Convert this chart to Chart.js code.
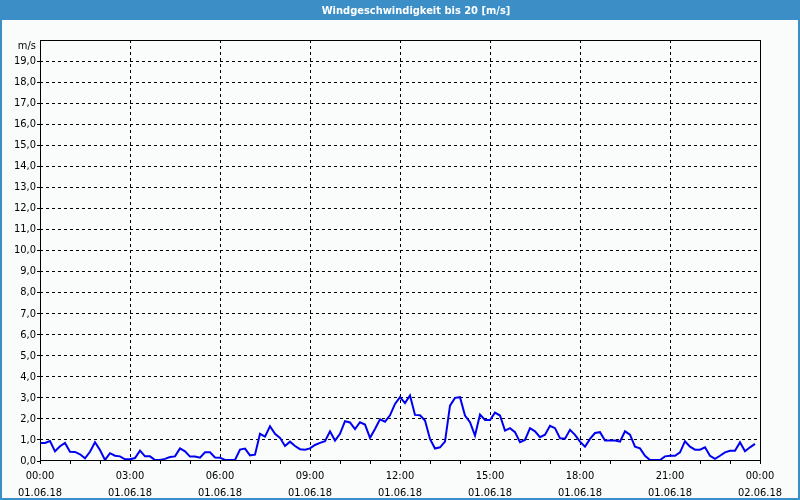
<!DOCTYPE html>
<html>
<head>
<meta charset="utf-8">
<script src="https://cdn.jsdelivr.net/npm/chart.js@4.4.0/dist/chart.umd.min.js"></script>
<style>
  body { margin: 0; background: #fff; }
  #wrap { width: 800px; height: 500px; }
</style>
</head>
<body>
<div id="wrap"><canvas id="myChart" width="800" height="500"></canvas></div>
<script>
// chart texts
const chartTitle = "Windgeschwindigkeit bis 20 [m/s]";
const unitLabel = "m/s";

// x axis: hours 0..24, labels every 3 h
const tickHours = [0, 3, 6, 9, 12, 15, 18, 21, 24];
const tickTimes = ["00:00", "03:00", "06:00", "09:00", "12:00", "15:00", "18:00", "21:00", "00:00"];
const tickDates = ["01.06.18", "01.06.18", "01.06.18", "01.06.18", "01.06.18", "01.06.18", "01.06.18", "01.06.18", "02.06.18"];

// one value every 10 minutes, starting 00:00
const stepMinutes = 10;
const windSpeed = [
  0.86, 0.86, 0.95, 0.46, 0.70, 0.86, 0.44, 0.43, 0.32, 0.13, 0.44, 0.89,
  0.52, 0.05, 0.37, 0.25, 0.22, 0.08, 0.08, 0.14, 0.49, 0.22, 0.22, 0.05,
  0.05, 0.10, 0.19, 0.22, 0.60, 0.46, 0.21, 0.21, 0.16, 0.41, 0.41, 0.17,
  0.16, 0.05, 0.05, 0.05, 0.54, 0.59, 0.27, 0.30, 1.29, 1.16, 1.65, 1.29,
  1.10, 0.71, 0.92, 0.71, 0.56, 0.54, 0.60, 0.76, 0.86, 0.94, 1.41, 0.97,
  1.29, 1.89, 1.83, 1.52, 1.84, 1.73, 1.10, 1.52, 1.98, 1.87, 2.17, 2.71,
  3.03, 2.75, 3.11, 2.19, 2.17, 1.92, 1.05, 0.59, 0.65, 0.92, 2.63, 3.00,
  3.03, 2.16, 1.84, 1.21, 2.21, 1.95, 1.95, 2.30, 2.16, 1.44, 1.56, 1.37,
  0.89, 1.00, 1.56, 1.41, 1.13, 1.25, 1.67, 1.56, 1.08, 1.06, 1.48, 1.24,
  0.92, 0.68, 1.05, 1.33, 1.37, 0.97, 0.97, 0.97, 0.92, 1.41, 1.25, 0.68,
  0.60, 0.25, 0.05, 0.05, 0.05, 0.22, 0.25, 0.25, 0.41, 0.94, 0.68, 0.54,
  0.54, 0.65, 0.25, 0.10, 0.25, 0.41, 0.49, 0.49, 0.89, 0.46, 0.65, 0.81
];

const points = windSpeed.map((v, i) => ({ x: (i * stepMinutes) / 60, y: v }));
const tickFont = { family: "'DejaVu Sans Condensed', 'Liberation Sans', sans-serif", size: 11 };

// window frame, title bar, plot border and unit label
const framePlugin = {
  id: "frame",
  beforeDraw(chart) {
    const ctx = chart.ctx;
    ctx.save();
    ctx.fillStyle = "#fafcfc";
    ctx.fillRect(0, 0, 800, 500);
    ctx.fillStyle = "#3c8fc6";
    ctx.fillRect(0, 0, 800, 20);
    ctx.strokeStyle = "#3c8fc6";
    ctx.lineWidth = 2;
    ctx.strokeRect(1, 1, 798, 498);
    ctx.fillStyle = "#ffffff";
    ctx.font = "bold 11px 'DejaVu Sans Condensed', 'Liberation Sans', sans-serif";
    ctx.textAlign = "center";
    ctx.textBaseline = "middle";
    ctx.fillText(chartTitle, 416, 11);
    ctx.restore();
  },
  afterDraw(chart) {
    const { ctx, chartArea: a } = chart;
    ctx.save();
    ctx.strokeStyle = "#000";
    ctx.lineWidth = 1;
    ctx.strokeRect(Math.round(a.left) + 0.5, Math.round(a.top) + 0.5, Math.round(a.right - a.left), Math.round(a.bottom - a.top) - 1);
    ctx.fillStyle = "#000";
    ctx.font = "11px " + tickFont.family;
    ctx.textAlign = "right";
    ctx.textBaseline = "middle";
    ctx.fillText(unitLabel, 36, 46);
    ctx.restore();
  }
};

new Chart(document.getElementById("myChart"), {
  type: "line",
  data: {
    datasets: [{
      data: points,
      borderColor: "#0000f0",
      borderWidth: 2,
      pointRadius: 0,
      tension: 0,
      fill: false
    }]
  },
  options: {
    responsive: false,
    animation: false,
    layout: { padding: { top: 40, right: 40, left: 0, bottom: 0 } },
    plugins: { legend: { display: false }, tooltip: { enabled: false } },
    scales: {
      x: {
        type: "linear",
        min: 0,
        max: 24,
        afterBuildTicks: (scale) => {
          const t = [];
          for (let h = 0; h <= 24; h++) t.push({ value: h });
          scale.ticks = t;
        },
        afterFit: (scale) => { scale.height = 39; },
        ticks: {
          autoSkip: false,
          maxRotation: 0,
          color: "#000",
          font: { ...tickFont, lineHeight: 1.5 },
          padding: 4,
          callback: (v) => {
            const k = tickHours.indexOf(v);
            return k >= 0 ? [tickTimes[k], tickDates[k]] : "";
          }
        },
        grid: {
          color: (c) => (c.tick && tickHours.includes(c.tick.value) && c.tick.value > 0 && c.tick.value < 24 ? "#000" : "rgba(0,0,0,0)"),
          tickColor: "#000",
          tickLength: 3,
          tickBorderDash: [],
          lineWidth: 1
        },
        border: { display: false, dash: [3, 3] }
      },
      y: {
        min: 0,
        max: 20,
        afterFit: (scale) => { scale.width = 40; },
        ticks: {
          stepSize: 1,
          color: "#000",
          font: tickFont,
          padding: 1,
          callback: (v) => (v === 20 ? "" : v.toFixed(1).replace(".", ","))
        },
        grid: {
          color: (c) => (c.tick && c.tick.value > 0 && c.tick.value < 20 ? "#000" : "rgba(0,0,0,0)"),
          tickColor: (c) => (c.tick && c.tick.value < 20 ? "#000" : "rgba(0,0,0,0)"),
          tickLength: 3,
          tickBorderDash: [],
          lineWidth: 1
        },
        border: { display: false, dash: [3, 3] }
      }
    }
  },
  plugins: [framePlugin]
});
</script>
</body>
</html>
